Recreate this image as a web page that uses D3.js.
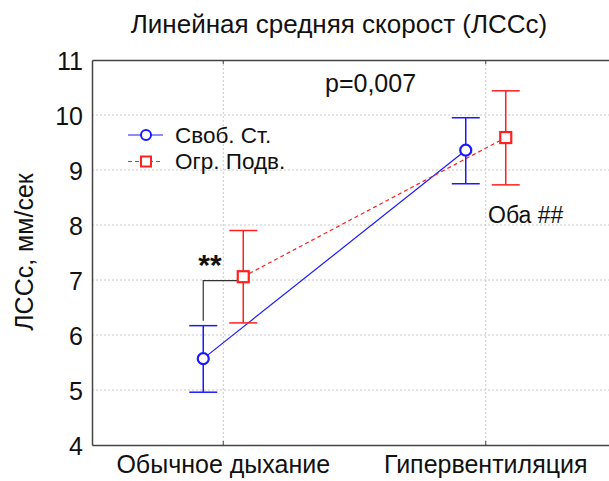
<!DOCTYPE html>
<html>
<head>
<meta charset="utf-8">
<script src="https://cdn.jsdelivr.net/npm/d3@7"></script>
<style>
  html, body { margin: 0; padding: 0; background: #fff; }
  svg text { font-family: "Liberation Sans", Arial, sans-serif; fill: #111; }
</style>
</head>
<body>
<div id="chart"></div>
<script>
const width = 609, height = 481

const categories = ['Обычное дыхание', 'Гипервентиляция']
const seriesNames = ['Своб. Ст.', 'Огр. Подв.']
const yTicks = [4, 5, 6, 7, 8, 9, 10, 11]

// Своб. Ст.
const freeMean = [5.57, 9.36]
const freeLow = [4.96, 8.75]
const freeHigh = [6.17, 9.95]
// Огр. Подв.
const restMean = [7.06, 9.59]
const restLow = [6.22, 8.73]
const restHigh = [7.90, 10.44]

const series = [
  {name: seriesNames[0], mean: freeMean, low: freeLow, high: freeHigh, color: '#1a1aff', dash: null, shape: 'circle', dx: -20},
  {name: seriesNames[1], mean: restMean, low: restLow, high: restHigh, color: '#ff2020', dash: '4,3', shape: 'square', dx: 20}
]

const margin = {left: 92, top: 60, right: -8, bottom: 36}

let svg = d3.select('#chart').append('svg')
.attr('width', width)
.attr('height', height)

let xScale = d3.scaleBand()
.domain(categories)
.range([margin.left, width - margin.right])
.padding(0)

let yScale = d3.scaleLinear()
.domain([4, 11])
.range([height - margin.bottom, margin.top])

let cx = (i, dx) => xScale(categories[i]) + xScale.bandwidth() / 2 + dx

// grid
let grid = svg.append('g')
grid.selectAll('.hgrid')
.data(yTicks.slice(1, -1))
.enter().append('line')
.attr('x1', margin.left).attr('x2', width)
.attr('y1', d => yScale(d)).attr('y2', d => yScale(d))
.attr('stroke', '#c8c8c8')
.attr('stroke-dasharray', '2,2')

grid.selectAll('.vgrid')
.data(categories)
.enter().append('line')
.attr('x1', d => xScale(d) + xScale.bandwidth() / 2)
.attr('x2', d => xScale(d) + xScale.bandwidth() / 2)
.attr('y1', margin.top).attr('y2', height - margin.bottom)
.attr('stroke', '#c8c8c8')
.attr('stroke-dasharray', '2,2')

// axes
let yaxis = svg.append('g')
.attr('transform', `translate(${margin.left},0)`)
.call(d3.axisLeft(yScale).tickValues(yTicks).tickFormat(d3.format('d')).tickSize(0).tickPadding(9))
yaxis.select('.domain').attr('stroke', '#444').attr('stroke-width', 1.5)
yaxis.selectAll('text').style('font-size', '25px').attr('dy', '0.36em')

let xaxis = svg.append('g')
.attr('transform', `translate(0,${height - margin.bottom})`)
.call(d3.axisBottom(xScale).tickSizeInner(-4).tickSizeOuter(0).tickPadding(10))
xaxis.select('.domain').attr('stroke', '#444').attr('stroke-width', 1.5)
xaxis.selectAll('.tick line').attr('stroke', '#444')
xaxis.selectAll('text').style('font-size', '25px').attr('dy', '0.71em')

let topaxis = svg.append('g')
.attr('transform', `translate(0,${margin.top})`)
.call(d3.axisTop(xScale).tickSizeInner(-4).tickSizeOuter(0).tickFormat(''))
topaxis.select('.domain').attr('stroke', '#444').attr('stroke-width', 1.5)
topaxis.selectAll('.tick line').attr('stroke', '#444')

// title
svg.append('text')
.attr('x', 339).attr('y', 33)
.attr('text-anchor', 'middle')
.style('font-size', '26px')
.text('Линейная средняя скорост (ЛССс)')

svg.append('text')
.attr('transform', 'translate(33,252) rotate(-90)')
.attr('text-anchor', 'middle')
.style('font-size', '25px')
.text('ЛССс, мм/сек')

// significance bracket
let bracket = d3.path()
bracket.moveTo(cx(0, series[0].dx), yScale(freeHigh[0]) - 5)
bracket.lineTo(cx(0, series[0].dx), yScale(restMean[0]) + 4)
bracket.lineTo(cx(0, series[1].dx) - 6, yScale(restMean[0]) + 4)
svg.append('path')
.attr('d', bracket.toString())
.attr('fill', 'none')
.attr('stroke', '#333')
.attr('stroke-width', 1.2)

svg.append('text')
.attr('x', 210).attr('y', 275)
.attr('text-anchor', 'middle')
.style('font-size', '30px').style('font-weight', 'bold')
.text('**')

// lines
let line = d3.line()
.x(d => d[0])
.y(d => d[1])

series.forEach(s => {
  svg.append('path')
  .datum(s.mean.map((m, i) => [cx(i, s.dx), yScale(m)]))
  .attr('d', line)
  .attr('fill', 'none')
  .attr('stroke', s.color)
  .attr('stroke-width', 1.2)
  .attr('stroke-dasharray', s.dash)
})

// error bars and markers
series.forEach(s => {
  let g = svg.append('g')
  s.mean.forEach((m, i) => {
    let x = cx(i, s.dx)
    g.append('line')
    .attr('x1', x).attr('x2', x)
    .attr('y1', yScale(s.low[i])).attr('y2', yScale(s.high[i]))
    .attr('stroke', s.color).attr('stroke-width', 1.5)
    ;[s.low[i], s.high[i]].forEach(v => {
      g.append('line')
      .attr('x1', x - 14).attr('x2', x + 14)
      .attr('y1', yScale(v)).attr('y2', yScale(v))
      .attr('stroke', s.color).attr('stroke-width', 1.5)
    })
    if (s.shape === 'circle') {
      g.append('circle')
      .attr('cx', x).attr('cy', yScale(m)).attr('r', 5.5)
      .attr('fill', '#fff').attr('stroke', s.color).attr('stroke-width', 2.2)
    } else {
      g.append('rect')
      .attr('x', x - 5.5).attr('y', yScale(m) - 5.5)
      .attr('width', 11).attr('height', 11)
      .attr('fill', '#fff').attr('stroke', s.color).attr('stroke-width', 2.2)
    }
  })
})

// annotations
svg.append('text')
.attr('x', 325).attr('y', 92)
.style('font-size', '25px')
.text('p=0,007')

svg.append('text')
.attr('x', 488).attr('y', 223)
.style('font-size', '23px')
.text('Оба ##')

// legend
let legend = svg.append('g')
series.forEach((s, i) => {
  let ly = 135 + i * 26.5
  legend.append('line')
  .attr('x1', 128).attr('x2', 163)
  .attr('y1', ly).attr('y2', ly)
  .attr('stroke', s.color).attr('stroke-width', 1.2)
  .attr('stroke-dasharray', s.dash)
  if (s.shape === 'circle') {
    legend.append('circle')
    .attr('cx', 146).attr('cy', ly).attr('r', 5)
    .attr('fill', '#fff').attr('stroke', s.color).attr('stroke-width', 2)
  } else {
    legend.append('rect')
    .attr('x', 141).attr('y', ly - 5).attr('width', 10).attr('height', 10)
    .attr('fill', '#fff').attr('stroke', s.color).attr('stroke-width', 2)
  }
  legend.append('text')
  .attr('x', 175).attr('y', ly + 7.5)
  .style('font-size', '22.5px')
  .text(s.name)
})
</script>
</body>
</html>
